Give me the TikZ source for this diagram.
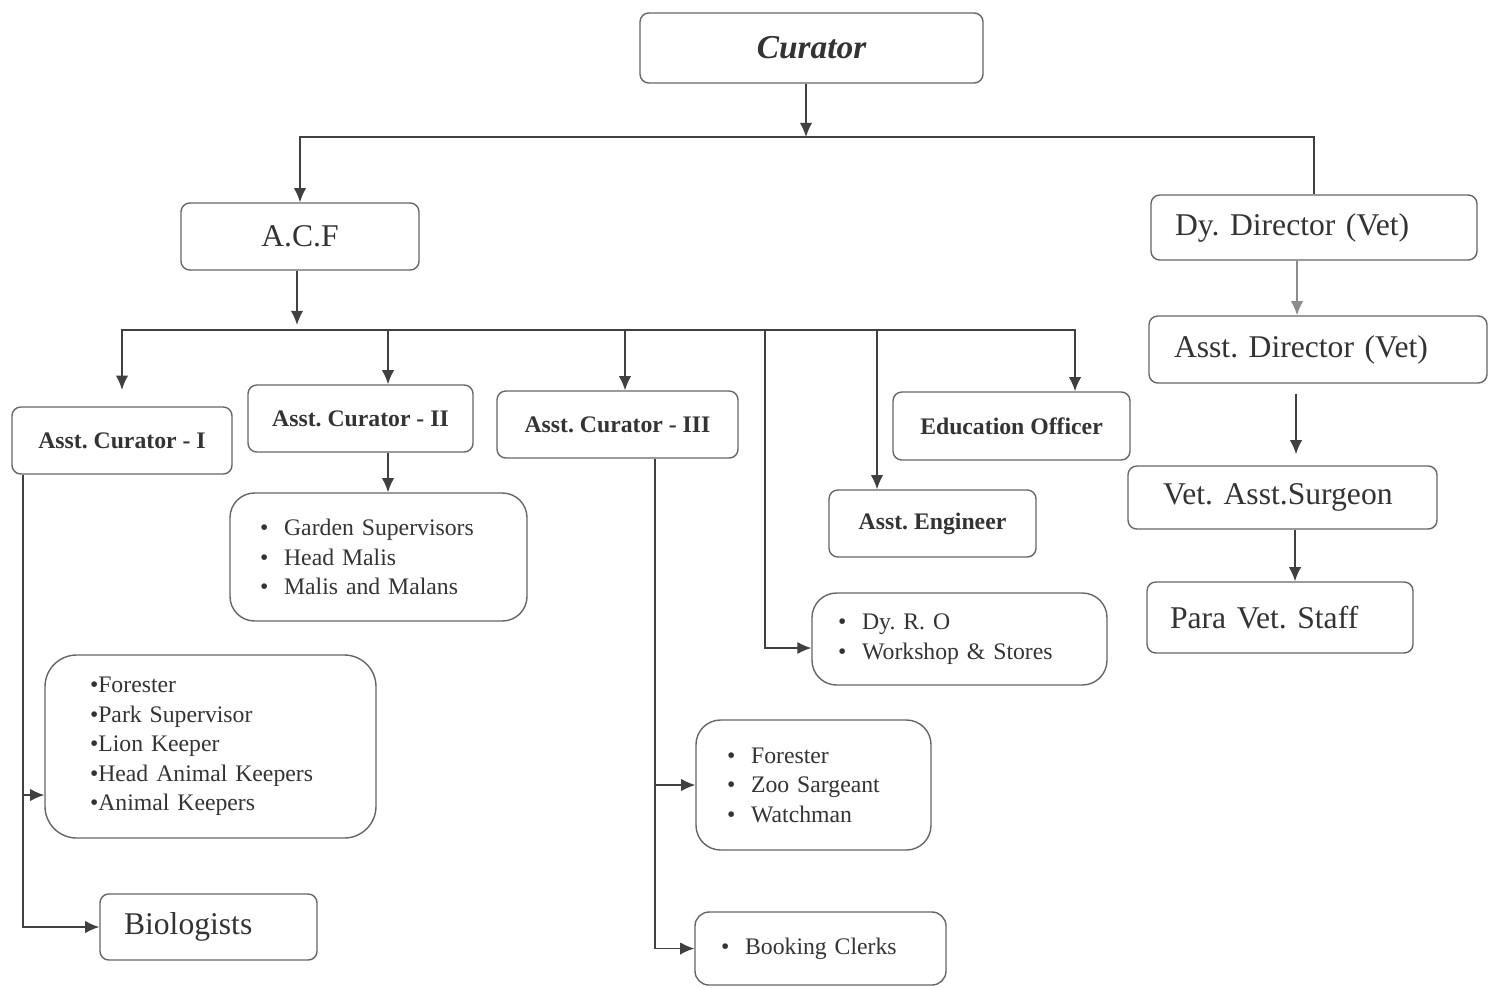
\documentclass[tikz,border=0pt]{standalone}
\usepackage{fontspec}
\setmainfont{Liberation Serif}
\usepackage{tikz}
\usetikzlibrary{arrows.meta,positioning}
\frenchspacing

\begin{document}
\begin{tikzpicture}[
    >={Latex[length=8pt,width=7pt]},
    line/.style={draw=black!75, line width=0.8pt},
    post/.style={
		rectangle,
		rounded corners=5pt,
		draw=black!60,
		line width=0.8pt,
		text=black!80,
		inner sep=0pt,
		align=center
	},
	head/.style={
		post,
		font=\fontsize{13.5}{16}\selectfont\bfseries
	},
	big/.style={
		post,
		align=left,
		font=\fontsize{18}{21}\selectfont
	},
	staff/.style={
		post,
		rounded corners=14pt,
		align=left,
		font=\fontsize{13.5}{16.8}\selectfont
	}
  ]
  \useasboundingbox (0,0) rectangle (29.94,-19.74);

    % We start by placing the blocks
  \node [post, minimum width=6.86cm, minimum height=1.4cm,
         font=\fontsize{19}{22}\selectfont\bfseries\itshape] (curator) at (16.23,-0.96) {Curator};

  \node [post, minimum width=4.76cm, minimum height=1.34cm,
         font=\fontsize{18}{21}\selectfont] (acf) at (6.0,-4.73) {A.C.F};

  % vet side
  \node [big, text width=5.56cm, inner xsep=0.48cm, minimum height=1.3cm] (dydir) at (26.28,-4.55) {Dy. Director (Vet)};
  \node [big, text width=5.76cm, inner xsep=0.5cm, minimum height=1.34cm] (asstdir) at (26.36,-6.99) {Asst. Director (Vet)};
  \node [big, text width=4.78cm, inner xsep=0.7cm, minimum height=1.26cm] (vetasst) at (25.65,-9.95) {Vet. Asst.Surgeon};
  \node [big, text width=4.4cm, inner xsep=0.46cm, minimum height=1.42cm] (paravet) at (25.6,-12.35) {Para Vet. Staff};

  % under A.C.F
  \node [head, minimum width=4.4cm, minimum height=1.34cm] (acone) at (2.44,-8.81) {Asst. Curator - I};
  \node [head, minimum width=4.5cm, minimum height=1.34cm] (actwo) at (7.21,-8.37) {Asst. Curator - II};
  \node [head, minimum width=4.82cm, minimum height=1.34cm] (acthree) at (12.35,-8.49) {Asst. Curator - III};
  \node [head, minimum width=4.74cm, minimum height=1.36cm] (edu) at (20.23,-8.52) {Education Officer};
  \node [head, minimum width=4.14cm, minimum height=1.34cm] (engineer) at (18.65,-10.47) {Asst. Engineer};

  % staff lists
  \node [staff, text width=4.74cm, inner xsep=0.6cm, minimum height=2.56cm] (garden) at (7.57,-11.14)
 {%
  \textbullet\hspace{9pt}Garden Supervisors\\
  \textbullet\hspace{9pt}Head Malis\\
  \textbullet\hspace{9pt}Malis and Malans
 };

  \node [staff, text width=4.86cm, inner xsep=0.52cm, minimum height=1.84cm] (dyro) at (19.19,-12.78)
 {%
  \textbullet\hspace{9pt}Dy. R. O\\
  \textbullet\hspace{9pt}Workshop \& Stores
 };

  \node [staff, text width=4.82cm, inner xsep=0.9cm, minimum height=3.66cm, rounded corners=18pt] (keepers) at (4.21,-14.93)
 {%
  \textbullet Forester\\
  \textbullet Park Supervisor\\
  \textbullet Lion Keeper\\
  \textbullet Head Animal Keepers\\
  \textbullet Animal Keepers
 };

  \node [big, text width=3.38cm, inner xsep=0.48cm, minimum height=1.32cm] (bio) at (4.17,-18.54) {Biologists};

  \node [staff, text width=3.46cm, inner xsep=0.62cm, minimum height=2.6cm] (zoo) at (16.27,-15.7)
 {%
  \textbullet\hspace{9pt}Forester\\
  \textbullet\hspace{9pt}Zoo Sargeant\\
  \textbullet\hspace{9pt}Watchman
 };

  \node [staff, text width=3.98cm, inner xsep=0.52cm, minimum height=1.46cm, rounded corners=8pt] (booking) at (16.41,-18.97)
 {%
  \textbullet\hspace{9pt}Booking Clerks
 };

  % connectors
  \coordinate (top) at (16.12,-2.74);
  \coordinate (b2) at (5.94,-6.6);
  \coordinate (ro) at (15.3,-12.96);

  \draw [line,->] (curator.south -| top) -- (top);
  \draw [line,<-] (acf.north) |- (top) -| (dydir.north);
  \draw [line,->] (acf.south -| b2) -- ([yshift=0.1cm]b2);

  \draw [line,->,shorten >=0.33cm] (b2) -| (acone.north);
  \draw [line,->] (b2) -| ([xshift=0.55cm]actwo.north);
  \draw [line,->] (b2) -| ([xshift=0.15cm]acthree.north);
  \draw [line,->] (b2) -| ([xshift=1.27cm]edu.north);
  \draw [line,->] (b2) -| ([xshift=-1.11cm]engineer.north);
  \draw [line,->] (b2) -| (ro) -- (ro -| dyro.west);

  \draw [line,->] ([xshift=0.55cm]actwo.south) -- ([xshift=0.55cm]actwo.south |- garden.north);

  \draw [line,->] ([xshift=-1.98cm]acone.south) |- ([yshift=-0.97cm]keepers.west);
  \draw [line,->] ([xshift=-1.98cm]acone.south) |- (bio.west);

  \draw [line,->] ([xshift=0.75cm]acthree.south) |- (zoo.west);
  \draw [line,->] ([xshift=0.75cm]acthree.south) |- (booking.west);

  \draw [line,->,draw=black!45,fill=black!45] ([xshift=-0.34cm]dydir.south) -- ([xshift=-0.34cm]dydir.south |- asstdir.north);
  \draw [line,->,shorten <=0.2cm,shorten >=0.22cm] ([xshift=-0.44cm]asstdir.south) -- ([xshift=-0.44cm]asstdir.south |- vetasst.north);
  \draw [line,->] ([xshift=0.25cm]vetasst.south) -- ([xshift=0.25cm]vetasst.south |- paravet.north);

\end{tikzpicture}
\end{document}
